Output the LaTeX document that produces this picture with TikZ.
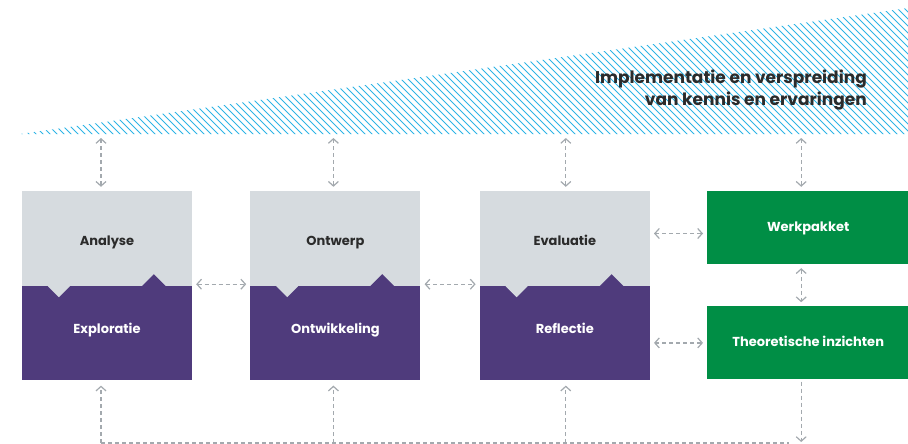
\documentclass[tikz,border=0pt]{standalone}
\usepackage{fontspec}
\setmainfont{Poppins}
\usepackage{xcolor}
\usetikzlibrary{positioning, arrows.meta}
\definecolor{boxgray}{HTML}{D6DBDF}
\definecolor{boxpurple}{HTML}{4F3B7C}
\definecolor{boxgreen}{HTML}{008E45}
\definecolor{linkgray}{HTML}{A3A9AE}
\definecolor{hatchblue}{HTML}{2EB4E6}
\definecolor{textdark}{HTML}{2B2B2B}
\tikzset{
	node distance=58pt, % gap between two columns of boxes
	phase/.style={rectangle, inner sep=0pt, minimum width=170pt, minimum height=95pt, fill=boxgray, text=textdark, text height=16pt, text depth=3pt, font=\bfseries\fontsize{13}{15}\selectfont}, % upper half of a column
	deepbox/.style={phase, minimum height=94pt, fill=boxpurple, text=white, text height=9pt, text depth=9pt}, % lower half of a column
	result/.style={phase, minimum width=202pt, minimum height=73pt, fill=boxgreen, text=white, text height=11pt, text depth=3pt}, % the green boxes
	plain/.style={draw=linkgray, line width=1.2pt, dash pattern=on 4pt off 3pt}, % dashed connectors
	link/.style={plain, {Straight Barb[length=4.5pt,width=10pt]}-{Straight Barb[length=4.5pt,width=10pt]}, shorten <=4pt, shorten >=4pt}, % both ways
	feed/.style={plain, -{Straight Barb[length=4.5pt,width=10pt]}, shorten >=5pt}, % one way
	hatch/.style={draw=hatchblue, line width=0.75pt}, % stripes of the band
	heading/.style={text=textdark, align=right, font=\bfseries\fontsize{17}{22}\selectfont}, % text in the band
}
\begin{document}
\begin{tikzpicture}[x=1pt,y=-1pt]
	\useasboundingbox (0,0) rectangle (908,444);

	% the striped band
	\begin{scope}
		\clip (20,134) -- (908,8) -- (908,134) -- cycle;
		\foreach \x in {0,7,...,1064}
		{
			\draw[hatch] (\x-140,0) -- ++(140,140);
		}
	\end{scope}
	\node[heading, anchor=north east, inner sep=0pt] (band text) at (867,70) {Implementatie en verspreiding\\van kennis en ervaringen};
	\coordinate (band) at (0,134);
	\coordinate (floor) at (0,443);

	\node[phase] (analyse) at (107,238.5) {Analyse};
	\node[deepbox, below=0pt of analyse] (exploratie) {Exploratie};
	\node[phase, right=58pt of analyse] (ontwerp) {Ontwerp};
	\node[deepbox, below=0pt of ontwerp] (ontwikkeling) {Ontwikkeling};
	\node[phase, right=59pt of ontwerp] (evaluatie) {Evaluatie};
	\node[deepbox, below=0pt of evaluatie] (reflectie) {Reflectie};
	\node[result, anchor=north west] (werkpakket) at ([xshift=57pt]evaluatie.north east) {Werkpakket};
	\node[result, below=42pt of werkpakket] (inzichten) {Theoretische inzichten};

	% notches between the two halves
	\foreach \b in {exploratie,ontwikkeling,reflectie}
	{
		\fill[boxgray] ([xshift=26pt]\b.north west) -- ++(11,11) -- ++(11,-11) -- cycle;
		\fill[boxpurple] ([xshift=120pt]\b.north west) -- ++(12,-12) -- ++(12,12) -- cycle;
	}

	% up to the band
	\foreach \n/\s in {analyse/-6pt,ontwerp/-2pt,evaluatie/1pt,werkpakket/-7pt}
	{
		\draw[link] ([xshift=\s]\n.north |- band) -- ([xshift=\s]\n.north);
	}

	% between the columns
	\draw[link] ([yshift=2pt]exploratie.north east) -- ([yshift=2pt]ontwikkeling.north west);
	\draw[link] ([yshift=2pt]ontwikkeling.north east) -- ([yshift=2pt]reflectie.north west);
	\draw[link] ([yshift=-6pt]evaluatie.east |- werkpakket.west) -- ([yshift=-6pt]werkpakket.west);
	\draw[link] (reflectie.east |- inzichten.west) -- (inzichten.west);
	\draw[link] ([xshift=-7pt]werkpakket.south) -- ([xshift=-7pt]inzichten.north);

	% feedback along the bottom
	\draw[plain] ([xshift=-6pt]exploratie.south |- floor) -- ([xshift=-19pt]inzichten.south |- floor);
	\foreach \n/\s in {exploratie/-6pt,ontwikkeling/-2pt,reflectie/1pt}
	{
		\draw[feed] ([xshift=\s]\n.south |- floor) -- ([xshift=\s]\n.south);
	}
	\draw[feed, shorten >=1pt, shorten <=2pt] ([xshift=-7pt]inzichten.south) -- ([xshift=-7pt]inzichten.south |- floor);
\end{tikzpicture}
\end{document}
